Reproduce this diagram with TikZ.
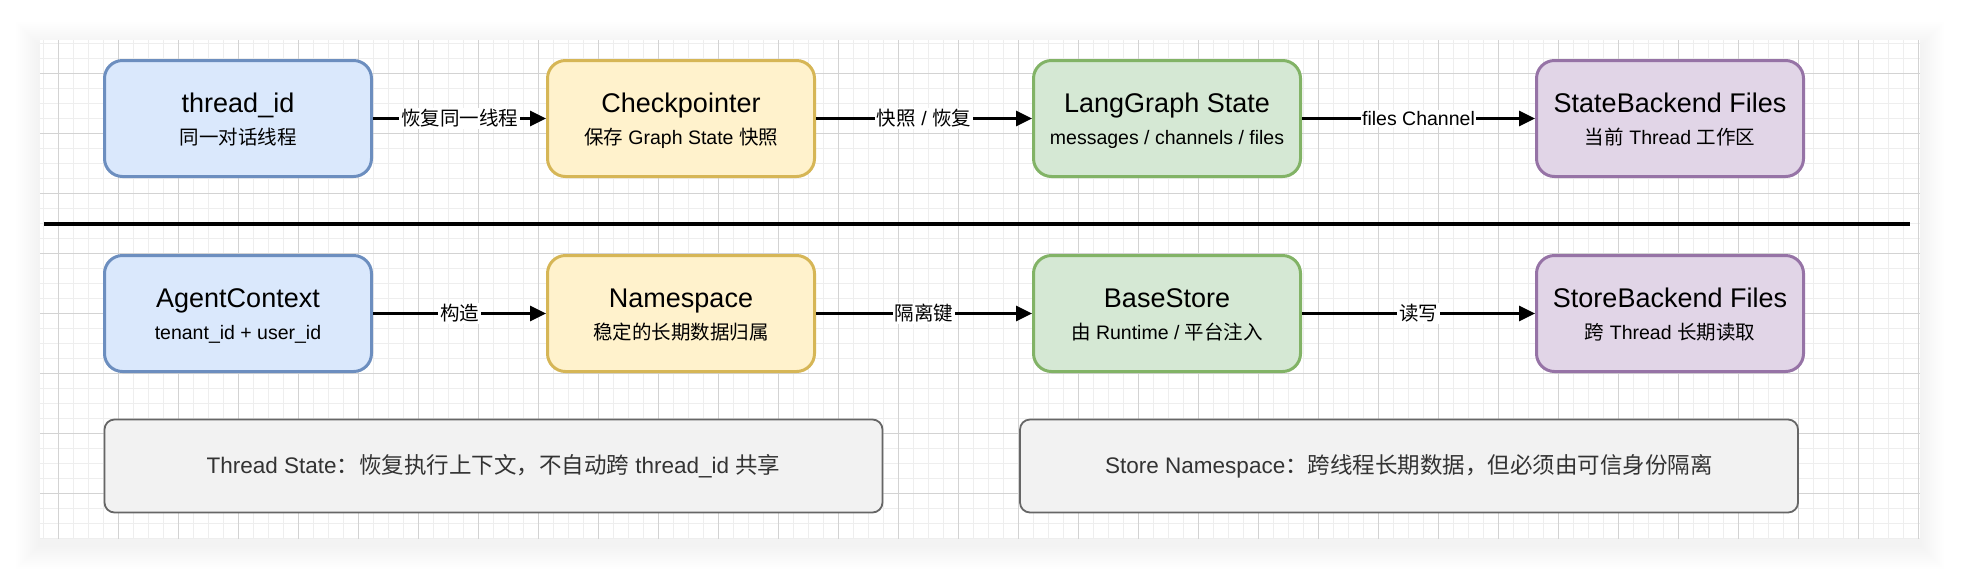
\documentclass[tikz,border=0pt]{standalone}
\usepackage{fontspec}
\setmainfont{Liberation Sans}
\newfontfamily\zhfont{Noto Sans CJK SC}
\newcommand{\zhtext}[1]{{\zhfont #1}}
\usetikzlibrary{arrows.meta,calc}

\definecolor{blueFill}{HTML}{DAE8FC}
\definecolor{blueLine}{HTML}{6C8EBF}
\definecolor{yellowFill}{HTML}{FFF2CC}
\definecolor{yellowLine}{HTML}{D6B656}
\definecolor{greenFill}{HTML}{D5E8D4}
\definecolor{greenLine}{HTML}{82B366}
\definecolor{purpleFill}{HTML}{E1D5E7}
\definecolor{purpleLine}{HTML}{9673A6}
\definecolor{noteFill}{HTML}{F2F2F2}
\definecolor{noteLine}{HTML}{666666}
\definecolor{noteText}{HTML}{333333}
\definecolor{gridMinor}{HTML}{EEEEEE}
\definecolor{gridMajor}{HTML}{D3D3D3}

\tikzset{
  card/.style={draw, rounded corners=9pt, line width=1.5pt,
    minimum width=133.5pt, minimum height=58pt, inner sep=0pt},
  bluecard/.style={card, fill=blueFill, draw=blueLine},
  yellowcard/.style={card, fill=yellowFill, draw=yellowLine},
  greencard/.style={card, fill=greenFill, draw=greenLine},
  purplecard/.style={card, fill=purpleFill, draw=purpleLine},
  cardtitle/.style={anchor=base, inner sep=0pt, font=\fontsize{13.5}{16}\selectfont},
  cardsub/.style={anchor=base, inner sep=0pt, font=\fontsize{9.75}{12}\selectfont},
  flow/.style={line width=1.5pt, -{Triangle[length=8pt,width=7.5pt]}},
  edgelabel/.style={fill=white, inner sep=0.8pt, font=\fontsize{9.75}{12}\selectfont},
  note/.style={draw=noteLine, fill=noteFill, rounded corners=5pt, line width=0.9pt,
    minimum width=389pt, minimum height=46.5pt, text=noteText,
    font=\fontsize{11.25}{14}\selectfont},
  divider/.style={line width=2pt}
}

\begin{document}
\begin{tikzpicture}[x=0.5pt, y=-0.5pt]
    \useasboundingbox (0,0) rectangle (1962,580);

    % Page shadow and grid paper
    \foreach \i in {1,...,12}
        \fill[black, opacity=0.005] (40-2*\i,46-2*\i) rectangle (1920+2*\i,545+2*\i);
    \fill[white] (40,40) rectangle (1920,539);
    \foreach \gx in {43.5,58.5,...,1918.5}
        \draw[gridMinor, line width=0.5pt] (\gx,40) -- (\gx,539);
    \foreach \gy in {43,58,...,538}
        \draw[gridMinor, line width=0.5pt] (40,\gy) -- (1920,\gy);
    \foreach \gx in {58.5,118.5,...,1918.5}
        \draw[gridMajor, line width=0.5pt] (\gx,40) -- (\gx,539);
    \foreach \gy in {73,133,...,538}
        \draw[gridMajor, line width=0.5pt] (40,\gy) -- (1920,\gy);

    % Thread side (top row)
    \node[bluecard] (threadid) at (238,118.5) {};
    \node[yellowcard] (checkpointer) at (681,118.5) {};
    \node[greencard] (graphstate) at (1167,118.5) {};
    \node[purplecard] (statefiles) at (1670,118.5) {};

    \node[cardtitle] (threadid-t) at ($(threadid)+(0,-6)$) {thread\_id};
    \node[cardsub] (threadid-s) at ($(threadid)+(0,26)$) {\zhtext{同一对话线程}};
    \node[cardtitle] (checkpointer-t) at ($(checkpointer)+(0,-6)$) {Checkpointer};
    \node[cardsub] (checkpointer-s) at ($(checkpointer)+(0,26)$) {\zhtext{保存} Graph State \zhtext{快照}};
    \node[cardtitle] (graphstate-t) at ($(graphstate)+(0,-6)$) {LangGraph State};
    \node[cardsub] (graphstate-s) at ($(graphstate)+(0,26)$) {messages / channels / files};
    \node[cardtitle] (statefiles-t) at ($(statefiles)+(0,-6)$) {StateBackend Files};
    \node[cardsub] (statefiles-s) at ($(statefiles)+(0,26)$) {\zhtext{当前} Thread \zhtext{工作区}};

    \draw[flow] (threadid) -- node[edgelabel] {\zhtext{恢复同一线程}} (checkpointer);
    \draw[flow] (checkpointer) -- node[edgelabel] {\zhtext{快照} / \zhtext{恢复}} (graphstate);
    \draw[flow] (graphstate) -- node[edgelabel] {files Channel} (statefiles);

    % Divider
    \coordinate (divleft) at (44,224);
    \coordinate (divright) at (1910,224);
    \draw[divider] (divleft) -- (divright);

    % Store side (bottom row)
    \node[bluecard] (agentctx) at (238,313.5) {};
    \node[yellowcard] (namespace) at (681,313.5) {};
    \node[greencard] (basestore) at (1167,313.5) {};
    \node[purplecard] (storefiles) at (1670,313.5) {};

    \node[cardtitle] (agentctx-t) at ($(agentctx)+(0,-6)$) {AgentContext};
    \node[cardsub] (agentctx-s) at ($(agentctx)+(0,26)$) {tenant\_id + user\_id};
    \node[cardtitle] (namespace-t) at ($(namespace)+(0,-6)$) {Namespace};
    \node[cardsub] (namespace-s) at ($(namespace)+(0,26)$) {\zhtext{稳定的长期数据归属}};
    \node[cardtitle] (basestore-t) at ($(basestore)+(0,-6)$) {BaseStore};
    \node[cardsub] (basestore-s) at ($(basestore)+(0,26)$) {\zhtext{由} Runtime / \zhtext{平台注入}};
    \node[cardtitle] (storefiles-t) at ($(storefiles)+(0,-6)$) {StoreBackend Files};
    \node[cardsub] (storefiles-s) at ($(storefiles)+(0,26)$) {\zhtext{跨} Thread \zhtext{长期读取}};

    \draw[flow] (agentctx) -- node[edgelabel] {\zhtext{构造}} (namespace);
    \draw[flow] (namespace) -- node[edgelabel] {\zhtext{隔离键}} (basestore);
    \draw[flow] (basestore) -- node[edgelabel] {\zhtext{读写}} (storefiles);

    % Notes
    \node[note] (threadnote) at (493.5,466) {Thread State\zhtext{：恢复执行上下文，不自动跨} thread\_id \zhtext{共享}};
    \node[note] (storenote) at (1409,466) {Store Namespace\zhtext{：跨线程长期数据，但必须由可信身份隔离}};
\end{tikzpicture}
\end{document}
